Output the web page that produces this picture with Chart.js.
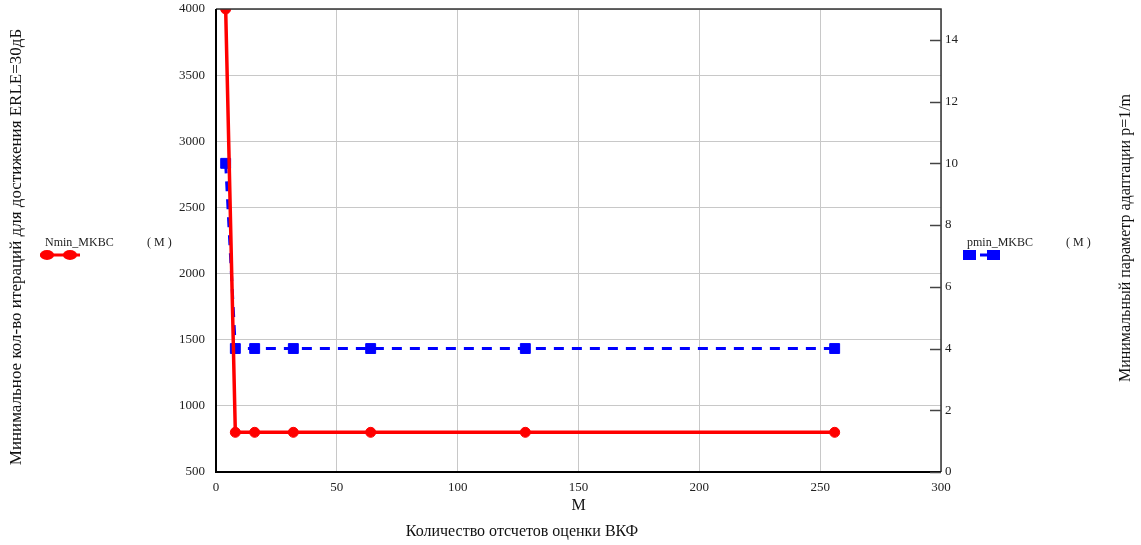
<!DOCTYPE html>
<html>
<head>
<meta charset="utf-8">
<script src="https://cdn.jsdelivr.net/npm/chart.js@4/dist/chart.umd.min.js"></script>
<style>
  html, body { margin: 0; padding: 0; background: #fff; }
  #wrap { width: 1141px; height: 545px; position: relative; }
</style>
</head>
<body>
<div id="wrap"><canvas id="chart"></canvas></div>
<script>
// data
const mValues = [4, 8, 16, 32, 64, 128, 256]
const nminValues = [4000, 800, 800, 800, 800, 800, 800]
const pminValues = [10, 4, 4, 4, 4, 4, 4]
const xTickStep = 50
const leftTickStep = 500
const rightTickStep = 2

const serif = "'Liberation Serif', 'DejaVu Serif', serif"
const plain = v => String(v)

const overlay = {
  id: 'overlay',
  afterDraw(chart) {
    const ctx = chart.ctx
    const a = chart.chartArea
    const y1 = chart.scales.y1
    ctx.save()
    // frame
    ctx.strokeStyle = '#333'
    ctx.lineWidth = 1.5
    ctx.beginPath()
    ctx.moveTo(a.left, a.top); ctx.lineTo(a.right, a.top); ctx.lineTo(a.right, a.bottom)
    ctx.stroke()
    ctx.strokeStyle = '#000'
    ctx.lineWidth = 2
    ctx.beginPath()
    ctx.moveTo(a.left, a.top); ctx.lineTo(a.left, a.bottom); ctx.lineTo(a.right, a.bottom)
    ctx.stroke()
    // right axis ticks (inside)
    ctx.strokeStyle = '#444'
    ctx.lineWidth = 1.5
    y1.ticks.forEach(t => {
      const py = Math.round(y1.getPixelForValue(t.value)) + 0.5
      ctx.beginPath(); ctx.moveTo(a.right - 11, py); ctx.lineTo(a.right, py); ctx.stroke()
    })
    // titles
    ctx.fillStyle = '#111'
    ctx.font = '16px ' + serif
    ctx.textAlign = 'center'
    ctx.textBaseline = 'middle'
    ctx.fillText('M', (a.left + a.right) / 2, 506)
    ctx.fillText('Количество отсчетов оценки ВКФ', 522, 532)
    ctx.save()
    ctx.translate(1126, 238); ctx.rotate(-Math.PI / 2)
    ctx.fillText('Минимальный параметр адаптации p=1/m', 0, 0)
    ctx.restore()
    ctx.font = '17px ' + serif
    ctx.save()
    ctx.translate(17, 247); ctx.rotate(-Math.PI / 2)
    ctx.fillText('Минимальное кол-во итераций для достижения ERLE=30дБ', 0, 0)
    ctx.restore()
    // legends
    ctx.font = '12px ' + serif
    ctx.textAlign = 'left'
    ctx.textBaseline = 'alphabetic'
    ctx.fillStyle = '#222'
    ctx.fillText('Nmin_MKBC', 45, 246)
    ctx.fillText('( M )', 147, 246)
    ctx.fillText('pmin_MKBC', 967, 246)
    ctx.fillText('( M )', 1066, 246)
    ctx.strokeStyle = '#ff0000'
    ctx.fillStyle = '#ff0000'
    ctx.lineWidth = 3
    ctx.beginPath(); ctx.moveTo(40, 255); ctx.lineTo(80, 255); ctx.stroke()
    ;[47, 70].forEach(cx => { ctx.beginPath(); ctx.ellipse(cx, 255, 7, 5, 0, 0, Math.PI * 2); ctx.fill() })
    ctx.strokeStyle = '#0000ff'
    ctx.fillStyle = '#0000ff'
    ctx.beginPath(); ctx.moveTo(980, 255); ctx.lineTo(988, 255); ctx.stroke()
    ctx.fillRect(963, 250, 13, 10)
    ctx.fillRect(987, 250, 13, 10)
    ctx.restore()
  }
}

const noVertPad = s => { s.paddingTop = 0; s.paddingBottom = 0 }

const ctx = document.getElementById('chart')
new Chart(ctx, {
  type: 'line',
  data: {
    datasets: [{
      label: 'Nmin_MKBC',
      data: mValues.map((m, i) => ({ x: m, y: nminValues[i] })),
      yAxisID: 'y',
      borderColor: '#ff0000',
      backgroundColor: '#ff0000',
      borderWidth: 3.5,
      pointStyle: 'circle',
      pointRadius: 5,
      pointBorderWidth: 1,
      pointHoverRadius: 5,
      tension: 0
    }, {
      label: 'pmin_MKBC',
      data: mValues.map((m, i) => ({ x: m, y: pminValues[i] })),
      yAxisID: 'y1',
      borderColor: '#0000ff',
      backgroundColor: '#0000ff',
      borderWidth: 3,
      borderDash: [10, 8],
      pointStyle: 'rect',
      pointRadius: 7,
      pointBorderWidth: 1,
      pointHoverRadius: 7,
      tension: 0
    }]
  },
  options: {
    responsive: true,
    maintainAspectRatio: false,
    animation: false,
    layout: { padding: { top: 9, left: 0, right: 0, bottom: 0 } },
    plugins: {
      legend: { display: false },
      tooltip: { enabled: false }
    },
    scales: {
      x: {
        type: 'linear',
        min: 0,
        max: 300,
        ticks: { stepSize: xTickStep, color: '#222', padding: 8, font: { family: serif, size: 13 }, callback: plain },
        grid: { color: '#c8c8c8', lineWidth: 1, drawTicks: false },
        border: { display: false },
        afterFit: s => { s.height = 73 }
      },
      y: {
        position: 'left',
        min: 500,
        max: 4000,
        ticks: { stepSize: leftTickStep, color: '#222', padding: 11, font: { family: serif, size: 13 }, callback: plain },
        grid: { color: '#c8c8c8', lineWidth: 1, drawTicks: false },
        border: { display: false },
        afterFit: s => { s.width = 216; noVertPad(s) }
      },
      y1: {
        position: 'right',
        min: 0,
        max: 15,
        ticks: { stepSize: rightTickStep, color: '#222', padding: 4, font: { family: serif, size: 13 }, callback: plain },
        afterBuildTicks: s => { s.ticks = s.ticks.filter(t => t.value % rightTickStep === 0) },
        grid: { drawOnChartArea: false, drawTicks: false },
        border: { display: false },
        afterFit: s => { s.width = 200; noVertPad(s) }
      }
    }
  },
  plugins: [overlay]
})
</script>
</body>
</html>
